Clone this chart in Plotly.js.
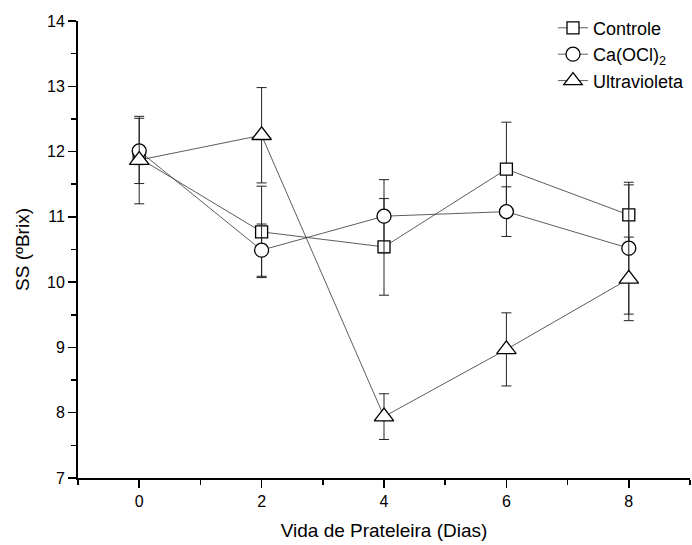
<!DOCTYPE html>
<html>
<head>
<meta charset="utf-8">
<script src="https://cdn.plot.ly/plotly-3.0.1.min.js"></script>
<style>html,body{margin:0;padding:0;background:#fff;}#chart{width:692px;height:545px;}</style>
</head>
<body>
<div id="chart"></div>
<script>
const dias = [0, 2, 4, 6, 8];
const seriesNames = ["Controle", "Ca(OCl)<sub>2</sub>", "Ultravioleta"];
const controle = [11.90, 10.77, 10.54, 11.73, 11.03];
const controleErr = [0.10, 0.70, 0.74, 0.72, 0.46];
const caocl = [12.01, 10.49, 11.01, 11.08, 10.52];
const caoclErr = [0.50, 0.40, 0.56, 0.38, 1.01];
const ultravioleta = [11.87, 12.25, 7.94, 8.97, 10.05];
const ultravioletaErr = [0.67, 0.73, 0.35, 0.56, 0.64];
const yTicks = [7, 8, 9, 10, 11, 12, 13, 14];
const xTicks = [0, 2, 4, 6, 8];

const symbols = ["square", "circle", "triangle-up"];
const sizes = [12, 14, 17];
const ys = [controle, caocl, ultravioleta];
const errs = [controleErr, caoclErr, ultravioletaErr];

const traces = ys.map((y, i) => ({
  x: dias, y: y, name: seriesNames[i], type: "scatter", mode: "lines+markers",
  line: {color: "#333", width: 0.8},
  marker: {symbol: symbols[i], size: sizes[i], color: "#fff",
           line: {color: "#000", width: 1.3}},
  error_y: {type: "data", array: errs[i], visible: true, color: "#222", thickness: 1, width: 5}
}));

const layout = {
  width: 692, height: 545,
  margin: {l: 78, r: 2, t: 21, b: 67},
  paper_bgcolor: "#fff", plot_bgcolor: "#fff",
  font: {family: "Arial, 'Liberation Sans', sans-serif", color: "#000"},
  showlegend: true,
  legend: {x: 1, xanchor: "right", y: 1.025, yanchor: "top", font: {size: 18},
           bgcolor: "rgba(0,0,0,0)", tracegroupgap: 0},
  xaxis: {range: [-1, 9], tickvals: xTicks, ticktext: xTicks.map(String),
          showgrid: false, zeroline: false, showline: true, linewidth: 2, linecolor: "#000",
          ticks: "outside", ticklen: 8, tickwidth: 1.5, tickcolor: "#000",
          minor: {tickvals: [-1, 1, 3, 5, 7, 9], ticks: "outside", ticklen: 5, tickwidth: 1.5, tickcolor: "#000"},
          tickfont: {size: 16},
          title: {text: "Vida de Prateleira (Dias)", font: {size: 19}, standoff: 14}},
  yaxis: {range: [7, 14], tickvals: yTicks, ticktext: yTicks.map(String),
          showgrid: false, zeroline: false, showline: true, linewidth: 2, linecolor: "#000",
          ticks: "outside", ticklen: 8, tickwidth: 1.5, tickcolor: "#000",
          minor: {tickvals: [7.5, 8.5, 9.5, 10.5, 11.5, 12.5, 13.5], ticks: "outside", ticklen: 5, tickwidth: 1.5, tickcolor: "#000"},
          tickfont: {size: 16},
          title: {text: "SS (ºBrix)", font: {size: 19}, standoff: 12}}
};

Plotly.newPlot("chart", traces, layout, {displayModeBar: false, staticPlot: true});
</script>
</body>
</html>
